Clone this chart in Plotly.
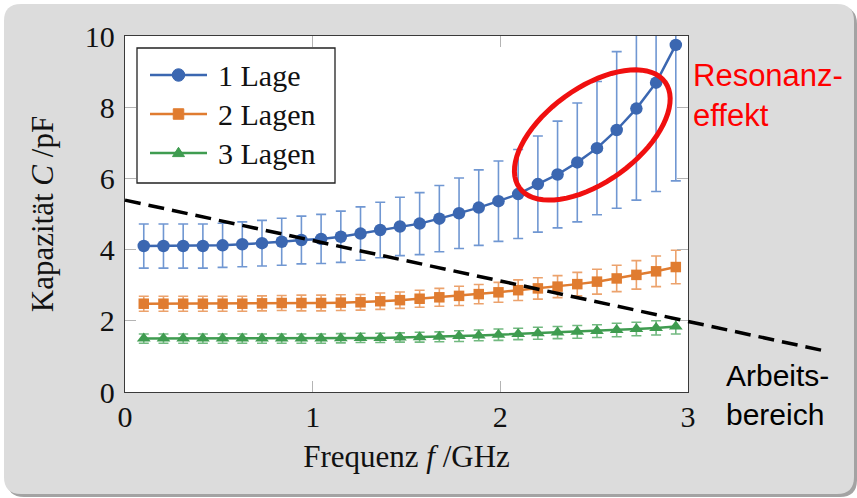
import numpy as np
import plotly.graph_objects as go

# ---- measured data -------------------------------------------------------
freq_ghz = [0.100, 0.205, 0.310, 0.415, 0.520, 0.625, 0.730, 0.835, 0.940, 1.045,
            1.150, 1.255, 1.360, 1.465, 1.570, 1.675, 1.780, 1.885, 1.990, 2.095,
            2.200, 2.305, 2.410, 2.515, 2.620, 2.725, 2.830, 2.935]

cap_1_lage = [4.10, 4.10, 4.10, 4.10, 4.12, 4.15, 4.18, 4.22, 4.27, 4.30,
              4.36, 4.45, 4.55, 4.65, 4.73, 4.87, 5.02, 5.18, 5.36, 5.56,
              5.84, 6.11, 6.45, 6.85, 7.36, 7.96, 8.69, 9.75]
err_1_lage = [0.62, 0.62, 0.62, 0.62, 0.62, 0.63, 0.64, 0.66, 0.67, 0.69,
              0.72, 0.75, 0.78, 0.82, 0.87, 0.93, 0.99, 1.06, 1.13, 1.25,
              1.35, 1.50, 1.67, 1.87, 2.20, 2.57, 3.06, 3.82]

cap_2_lagen = [2.48, 2.48, 2.48, 2.48, 2.48, 2.48, 2.49, 2.50, 2.50, 2.50,
               2.51, 2.52, 2.55, 2.58, 2.62, 2.66, 2.70, 2.75, 2.80, 2.86,
               2.91, 2.96, 3.03, 3.10, 3.19, 3.29, 3.39, 3.51]
err_2_lagen = [0.21, 0.21, 0.21, 0.21, 0.21, 0.21, 0.21, 0.21, 0.22, 0.22,
               0.22, 0.22, 0.23, 0.23, 0.24, 0.25, 0.27, 0.27, 0.28, 0.29,
               0.30, 0.31, 0.33, 0.35, 0.37, 0.40, 0.43, 0.47]

cap_3_lagen = [1.50, 1.50, 1.50, 1.50, 1.50, 1.50, 1.50, 1.50, 1.50, 1.50,
               1.51, 1.52, 1.52, 1.53, 1.54, 1.55, 1.57, 1.59, 1.61, 1.63,
               1.65, 1.67, 1.69, 1.71, 1.74, 1.77, 1.80, 1.84]
err_3_lagen = [0.13, 0.13, 0.13, 0.13, 0.13, 0.13, 0.13, 0.13, 0.13, 0.13,
               0.13, 0.13, 0.13, 0.13, 0.14, 0.14, 0.15, 0.15, 0.16, 0.16,
               0.17, 0.17, 0.18, 0.18, 0.19, 0.19, 0.20, 0.21]

series_names = ["1 Lage", "2 Lagen", "3 Lagen"]
x_ticks = [0, 1, 2, 3]
y_ticks = [0, 2, 4, 6, 8, 10]

# working-range boundary (dashed), given in axis units
work_f = [0.0, 3.75]
work_c = [5.39, 1.13]

# ---- page geometry -------------------------------------------------------
W, H = 857, 498
ML, MR, MT, MB = 125, 169, 36, 106
PW, PH = W - ML - MR, H - MT - MB
X_RANGE = [0, 3]
Y_RANGE = [0, 10]
SX = PW / (X_RANGE[1] - X_RANGE[0])   # px per GHz
SY = PH / (Y_RANGE[1] - Y_RANGE[0])   # px per pF

SERIF = "Liberation Serif"
SANS = "Liberation Sans"
TEXT = "#111111"

BLUE, ORANGE, GREEN = "#3b67b1", "#e07c30", "#3f9c50"
BLUE_E, ORANGE_E, GREEN_E = "#7097d2", "#eca26c", "#72b980"


def px_to_paper(px, py):
    return (px - ML) / PW, (H - MB - py) / PH


def rounded_rect(x0, y0, x1, y1, r):
    """Rounded rectangle path (pixel corners) in paper coordinates."""
    pts = [("M", [(x0 + r, y0)]), ("L", [(x1 - r, y0)]), ("Q", [(x1, y0), (x1, y0 + r)]),
           ("L", [(x1, y1 - r)]), ("Q", [(x1, y1), (x1 - r, y1)]),
           ("L", [(x0 + r, y1)]), ("Q", [(x0, y1), (x0, y1 - r)]),
           ("L", [(x0, y0 + r)]), ("Q", [(x0, y0), (x0 + r, y0)])]
    out = []
    for cmd, coords in pts:
        conv = " ".join("%.5f,%.5f" % px_to_paper(a, b) for a, b in coords)
        out.append(cmd + " " + conv)
    return " ".join(out) + " Z"


def poly_path(points):
    return "M " + " L ".join("%.5f,%.5f" % px_to_paper(a, b) for a, b in points) + " Z"


fig = go.Figure()

series = [
    (series_names[0], cap_1_lage, err_1_lage, BLUE, BLUE_E, "circle", 12.5),
    (series_names[1], cap_2_lagen, err_2_lagen, ORANGE, ORANGE_E, "square", 10.5),
    (series_names[2], cap_3_lagen, err_3_lagen, GREEN, GREEN_E, "triangle-up", 12),
]
for name, vals, errs, col, ecol, sym, msize in series:
    fig.add_trace(go.Scatter(
        x=freq_ghz, y=vals, name=name, mode="lines+markers",
        line=dict(color=col, width=2.5),
        marker=dict(symbol=sym, size=msize, color=col),
        error_y=dict(type="data", array=errs, visible=True,
                     color=ecol, thickness=1.6, width=5),
        showlegend=False,
    ))

shapes = []
# slide panel with drop shadow, then white plot area
shapes.append(dict(type="path", xref="paper", yref="paper", layer="below",
                   path=rounded_rect(7, 7, 857, 497, 17),
                   fillcolor="#a3a3a3", line=dict(width=0)))
shapes.append(dict(type="path", xref="paper", yref="paper", layer="below",
                   path=rounded_rect(4, 4, 854, 494, 17),
                   fillcolor="#dcdcdc", line=dict(width=0)))
shapes.append(dict(type="rect", xref="paper", yref="paper", layer="below",
                   x0=0, x1=1, y0=0, y1=1, fillcolor="white", line=dict(width=0)))

# dashed working-range boundary, extends past the right axis
shapes.append(dict(type="line", xref="x domain", yref="y domain",
                   x0=(work_f[0] - X_RANGE[0]) / (X_RANGE[1] - X_RANGE[0]),
                   x1=(work_f[1] - X_RANGE[0]) / (X_RANGE[1] - X_RANGE[0]),
                   y0=(work_c[0] - Y_RANGE[0]) / (Y_RANGE[1] - Y_RANGE[0]),
                   y1=(work_c[1] - Y_RANGE[0]) / (Y_RANGE[1] - Y_RANGE[0]),
                   line=dict(color="black", width=3.5, dash="16px,8px")))

# tilted ellipse marking the resonance region
ell_cx, ell_cy = 2.49, 7.22          # centre in GHz / pF
ell_a, ell_b, ell_rot = 90, 47, np.deg2rad(36)   # semi-axes in px, tilt
t = np.linspace(0, 2 * np.pi, 73)
u, v = ell_a * np.cos(t), ell_b * np.sin(t)
ex = ell_cx + (u * np.cos(ell_rot) - v * np.sin(ell_rot)) / SX
ey = ell_cy + (u * np.sin(ell_rot) + v * np.cos(ell_rot)) / SY
ell_path = "M " + " L ".join("%.5f,%.5f" % (a, b) for a, b in zip(ex, ey)) + " Z"
shapes.append(dict(type="path", xref="x", yref="y", path=ell_path,
                   line=dict(color="#f01010", width=5)))

annotations = []

# legend box with long sample lines (pgfplots style)
LEG_X0, LEG_X1, LEG_Y0, LEG_Y1 = 137, 335, 48, 183
LEG_ROWS = [75, 114, 153]
LEG_LINE = (150, 207)
LEG_MARK_X = 178.5
LEG_TEXT_X = 216
lx0, ly0 = px_to_paper(LEG_X0, LEG_Y1)
lx1, ly1 = px_to_paper(LEG_X1, LEG_Y0)
shapes.append(dict(type="rect", xref="paper", yref="paper", x0=lx0, x1=lx1, y0=ly0, y1=ly1,
                   fillcolor="white", line=dict(color="#222222", width=1.3)))
for (name, vals, errs, col, ecol, sym, msize), ry in zip(series, LEG_ROWS):
    a0, b0 = px_to_paper(LEG_LINE[0], ry)
    a1, _ = px_to_paper(LEG_LINE[1], ry)
    shapes.append(dict(type="line", xref="paper", yref="paper", x0=a0, x1=a1, y0=b0, y1=b0,
                       line=dict(color=col, width=2.5)))
    cx = LEG_MARK_X
    r = msize / 2
    if sym == "circle":
        c0 = px_to_paper(cx - r, ry + r)
        c1 = px_to_paper(cx + r, ry - r)
        shapes.append(dict(type="circle", xref="paper", yref="paper",
                           x0=c0[0], x1=c1[0], y0=c0[1], y1=c1[1],
                           fillcolor=col, line=dict(color=col, width=1)))
    elif sym == "square":
        c0 = px_to_paper(cx - r, ry + r)
        c1 = px_to_paper(cx + r, ry - r)
        shapes.append(dict(type="rect", xref="paper", yref="paper",
                           x0=c0[0], x1=c1[0], y0=c0[1], y1=c1[1],
                           fillcolor=col, line=dict(color=col, width=1)))
    else:
        shapes.append(dict(type="path", xref="paper", yref="paper",
                           path=poly_path([(cx - r, ry + r * 0.6), (cx + r, ry + r * 0.6),
                                           (cx, ry - r * 0.95)]),
                           fillcolor=col, line=dict(color=col, width=1)))
    tx, ty = px_to_paper(LEG_TEXT_X, ry)
    annotations.append(dict(xref="paper", yref="paper", x=tx, y=ty, xanchor="left",
                            yanchor="middle", showarrow=False, text=name,
                            font=dict(family=SERIF, size=30, color=TEXT)))

rx, ry_ = px_to_paper(691, 56)
annotations.append(dict(xref="paper", yref="paper", x=rx, y=ry_, xanchor="left",
                        yanchor="top", align="left", showarrow=False,
                        text="Resonanz-<br>effekt",
                        font=dict(family=SANS, size=31, color="#ff0000")))
ax_, ay_ = px_to_paper(724, 357)
annotations.append(dict(xref="paper", yref="paper", x=ax_, y=ay_, xanchor="left",
                        yanchor="top", align="left", showarrow=False,
                        text="Arbeits-<br>bereich",
                        font=dict(family=SANS, size=30, color="black")))

axis_common = dict(showgrid=False, zeroline=False, showline=True, mirror="allticks",
                   linecolor="#3a3a3a", linewidth=1.4, ticks="inside", ticklen=11,
                   tickcolor="#b4b4b4", tickwidth=1.2,
                   tickfont=dict(family=SERIF, size=30, color=TEXT))

fig.update_layout(
    width=W, height=H,
    margin=dict(l=ML, r=MR, t=MT, b=MB, pad=0),
    paper_bgcolor="white", plot_bgcolor="white",
    showlegend=False,
    xaxis=dict(range=X_RANGE, tickvals=x_ticks, ticklabelstandoff=-2,
               title=dict(text="Frequenz <i>f</i> /GHz", standoff=13,
                          font=dict(family=SERIF, size=31, color=TEXT)),
               **axis_common),
    yaxis=dict(range=Y_RANGE, tickvals=y_ticks, ticklabelstandoff=3,
               title=dict(text="Kapazität <i>C</i> /pF", standoff=21,
                          font=dict(family=SERIF, size=31, color=TEXT)),
               **axis_common),
    shapes=shapes,
    annotations=annotations,
)

fig.write_html("out.html")
